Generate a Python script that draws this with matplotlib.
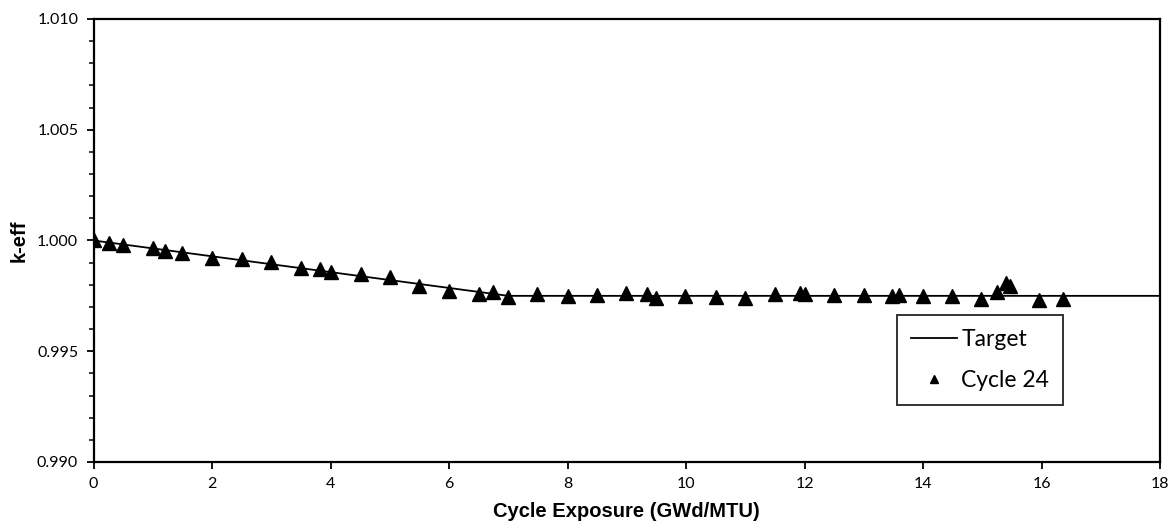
import matplotlib
matplotlib.use("Agg")
import matplotlib.pyplot as plt
from matplotlib.ticker import MultipleLocator, FormatStrFormatter

# Target k-eff curve (cycle exposure in GWd/MTU)
target_x = [0.0, 7.0, 18.0]
target_k = [1.0000, 0.9975, 0.9975]

# Cycle 24 calculated k-eff
cycle_x = [0.0, 0.26, 0.50, 1.00, 1.21, 1.50, 2.00, 2.50, 3.00, 3.50, 3.82, 4.00,
           4.51, 5.00, 5.50, 6.00, 6.50, 6.75, 7.00, 7.49, 8.00, 8.49, 8.99, 9.34,
           9.50, 9.99, 10.50, 11.00, 11.50, 11.93, 12.00, 12.50, 13.00, 13.48, 13.59,
           14.00, 14.49, 14.98, 15.25, 15.40, 15.47, 15.95, 16.36]
cycle_k = [1.00000, 0.99987, 0.99978, 0.99967, 0.99953, 0.99942, 0.99921, 0.99917,
           0.99904, 0.99876, 0.99870, 0.99857, 0.99850, 0.99835, 0.99793, 0.99771,
           0.99760, 0.99767, 0.99745, 0.99760, 0.99750, 0.99755, 0.99763, 0.99760,
           0.99740, 0.99748, 0.99745, 0.99740, 0.99760, 0.99762, 0.99760, 0.99756,
           0.99752, 0.99749, 0.99753, 0.99748, 0.99748, 0.99735, 0.99769, 0.99808,
           0.99795, 0.99731, 0.99735]

fig = plt.figure(figsize=(11.72, 5.29), dpi=100)
ax = fig.add_axes([0.0798, 0.1267, 0.9898 - 0.0798, 0.9641 - 0.1267])

ax.plot(target_x, target_k, color="black", lw=1.3, label="Target", zorder=2)
ax.plot(cycle_x, cycle_k, linestyle="none", marker="^", ms=10, color="black",
        label="Cycle 24", zorder=3)

ax.set_xlim(0, 18)
ax.set_ylim(0.990, 1.010)
ax.xaxis.set_major_locator(MultipleLocator(2))
ax.yaxis.set_major_locator(MultipleLocator(0.005))
ax.yaxis.set_minor_locator(MultipleLocator(0.001))
ax.yaxis.set_major_formatter(FormatStrFormatter("%.3f"))

for s in ax.spines.values():
    s.set_linewidth(1.6)
    s.set_color("black")

ax.tick_params(axis="both", which="major", direction="out", length=5, width=1.3,
               labelsize=11.5, colors="black", pad=6)
ax.tick_params(axis="y", which="minor", direction="out", length=3.5, width=1.1)
for lab in ax.get_xticklabels() + ax.get_yticklabels():
    lab.set_fontfamily("Lato")

ax.set_xlabel("Cycle Exposure (GWd/MTU)", fontsize=14.5, fontweight="bold",
              fontfamily="Liberation Sans", labelpad=8)
ax.set_ylabel("k-eff", fontsize=14.5, fontweight="bold",
              fontfamily="Liberation Sans", labelpad=6)

leg = ax.legend(loc="upper left", bbox_to_anchor=(0.7534, 0.332),
                prop={"family": "Lato", "size": 16.5}, frameon=True, fancybox=False,
                edgecolor="black", handlelength=2.0, handletextpad=0.2,
                borderpad=0.6, labelspacing=0.9, markerscale=0.6,
                borderaxespad=0)
leg.get_frame().set_linewidth(1.4)

fig.savefig("out.png", dpi=100, facecolor="white")
